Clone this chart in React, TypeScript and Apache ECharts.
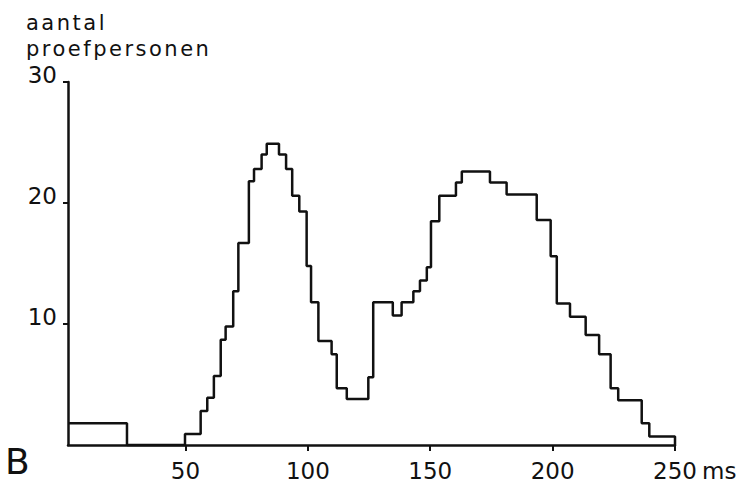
import React, { useEffect, useRef } from "react";
import * as echarts from "echarts";

// bin left edges (ms) and number of subjects per bin
const binEdges = [2, 26.1, 49.8, 56.2, 58.9, 61.6, 64.4, 66.4, 69.5, 71.6, 75.9, 78.0, 81.1, 83.2, 88.2, 91.1, 93.6, 96.5, 99.5, 101.3, 104.3, 109.7, 111.8, 115.9, 124.7, 126.7, 134.7, 138.3, 143.1, 145.8, 148.6, 150.3, 153.7, 160.5, 162.9, 174.4, 181.2, 193.5, 199.2, 201.7, 207.1, 213.5, 219.0, 223.7, 226.8, 236.4, 239.5, 250];
const counts = [1.8, 0, 0.9, 2.8, 3.9, 5.7, 8.7, 9.8, 12.7, 16.7, 21.8, 22.8, 24.0, 24.9, 24.0, 22.8, 20.6, 19.3, 14.8, 11.8, 8.6, 7.5, 4.7, 3.8, 5.6, 11.8, 10.7, 11.8, 12.7, 13.6, 14.7, 18.5, 20.6, 21.7, 22.6, 21.7, 20.7, 18.6, 15.6, 11.7, 10.6, 9.1, 7.5, 4.7, 3.7, 1.8, 0.7, 0];
const xTicks = [50, 100, 150, 200, 250];
const yTicks = [10, 20, 30];
const titleLines = ["aantal", "proefpersonen"];
const xUnit = "ms";
const panelLetter = "B";

const FONT = "DejaVu Sans";
const INK = "#111";

export default function App() {
  const ref = useRef<HTMLDivElement>(null);
  useEffect(() => {
    if (!ref.current) return;
    const chart = echarts.init(ref.current, null, { renderer: "svg" });
    chart.setOption({
      animation: false,
      backgroundColor: "#fff",
      grid: { left: 68, right: 66, top: 82, bottom: 38, outerBoundsMode: "none" },
      xAxis: {
        type: "value",
        min: 2,
        max: 250,
        axisLine: { lineStyle: { color: INK, width: 2.5 } },
        axisTick: { customValues: xTicks, length: 6, lineStyle: { color: INK, width: 2 } },
        axisLabel: {
          customValues: xTicks,
          color: INK,
          fontFamily: FONT,
          fontSize: 23,
          margin: 14,
        },
        splitLine: { show: false },
      },
      yAxis: {
        type: "value",
        min: 0,
        max: 30,
        interval: 10,
        axisLine: { show: true, lineStyle: { color: INK, width: 2.5 } },
        axisTick: { show: true, customValues: yTicks, length: 5, lineStyle: { color: INK, width: 2 } },
        axisLabel: {
          customValues: yTicks,
          color: INK,
          fontFamily: FONT,
          fontSize: 23,
          margin: 11,
          verticalAlign: "bottom",
          lineHeight: 14,
        },
        splitLine: { show: false },
      },
      series: [
        {
          type: "line",
          step: "end",
          symbol: "none",
          clip: false,
          data: binEdges.map((e, i) => [e, counts[i]]),
          lineStyle: { color: INK, width: 2.5 },
        },
      ],
      graphic: [
        {
          type: "text",
          left: 26,
          top: 12,
          style: { text: titleLines[0], font: `21px "${FONT}", sans-serif`, fill: INK },
        },
        {
          type: "text",
          left: 26,
          top: 38,
          style: { text: titleLines[1], font: `21px "${FONT}", sans-serif`, fill: INK },
        },
        {
          type: "text",
          left: 702,
          top: 459,
          style: { text: xUnit, font: `23px "${FONT}"`, fill: INK },
        },
        {
          type: "text",
          x: 5,
          y: 461,
          style: { text: panelLetter, font: `36px "${FONT}"`, fill: INK, verticalAlign: "middle", align: "left" },
        },
      ],
    });
    return () => chart.dispose();
  }, []);
  return (
    <>
      <style>{`.fig text[style*="sans-serif"] { letter-spacing: 2.5px; }`}</style>
      <div
        ref={ref}
        className="fig"
        style={{ position: "fixed", left: 0, top: 0, width: 741, height: 483, background: "#fff" }}
      />
    </>
  );
}
